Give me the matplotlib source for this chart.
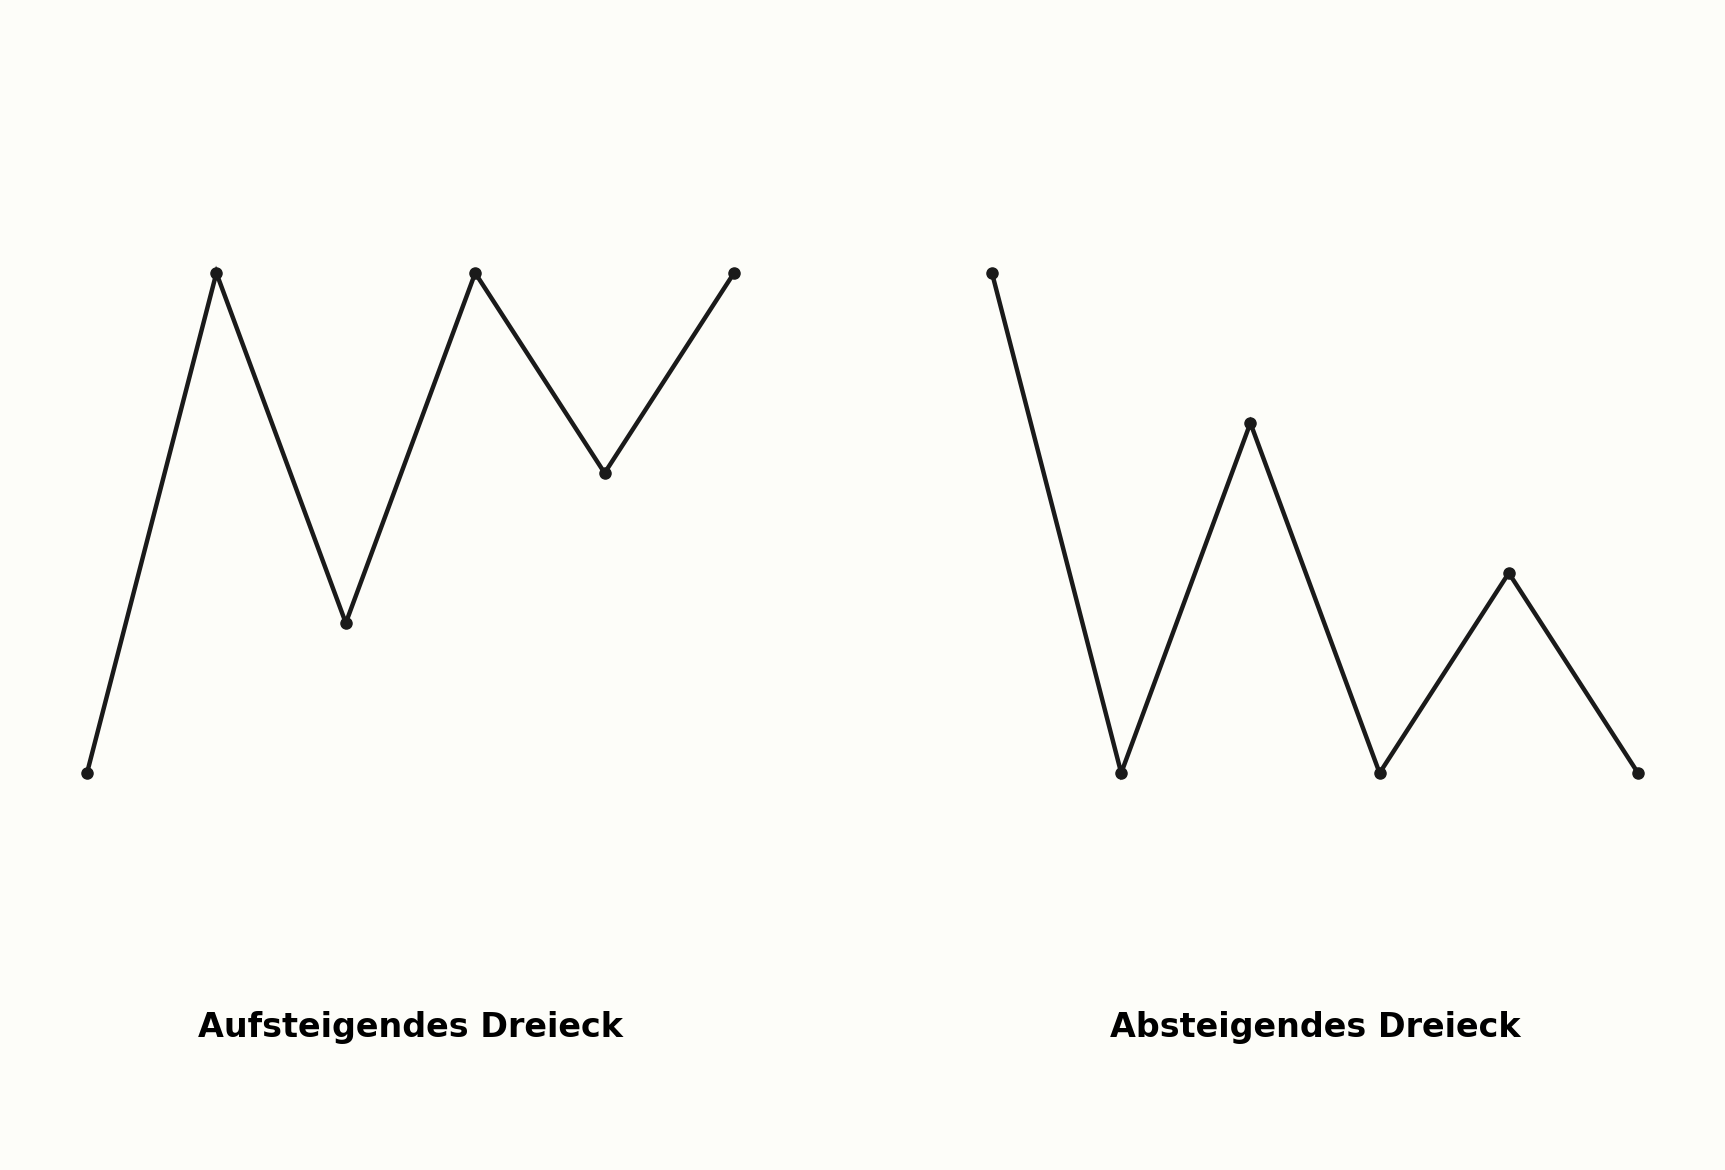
import matplotlib
matplotlib.use("Agg")
import matplotlib.pyplot as plt

steps = [0, 1, 2, 3, 4, 5]
aufsteigend = [10, 20, 13, 20, 16, 20]
absteigend = [20, 10, 17, 10, 14, 10]
titles = ["Aufsteigendes Dreieck", "Absteigendes Dreieck"]

bg = "#fdfdf9"
line_c = "#1a1a1a"

fig = plt.figure(figsize=(17.25, 11.7), dpi=100, facecolor=bg)
W, H = 1725, 1170
ymin, ymax = 10, 20
positions = [(87, 734), (992, 1638)]
y_top, y_bot = 273, 773

for (x0, x1), series, title in zip(positions, [aufsteigend, absteigend], titles):
    ax = fig.add_axes([x0 / W, 1 - y_bot / H, (x1 - x0) / W, (y_bot - y_top) / H])
    ax.set_facecolor(bg)
    ax.plot(steps, series, color=line_c, lw=3.2, marker="o", ms=8,
            clip_on=False, solid_joinstyle="miter")
    ax.set_xlim(steps[0], steps[-1])
    ax.set_ylim(ymin, ymax)
    ax.axis("off")
    fig.text((x0 + x1) / 2 / W, 1 - 1027 / H, title, ha="center", va="center",
             fontsize=24, fontweight="bold", color="#000000")

fig.savefig("out.png", dpi=100, facecolor=bg)
